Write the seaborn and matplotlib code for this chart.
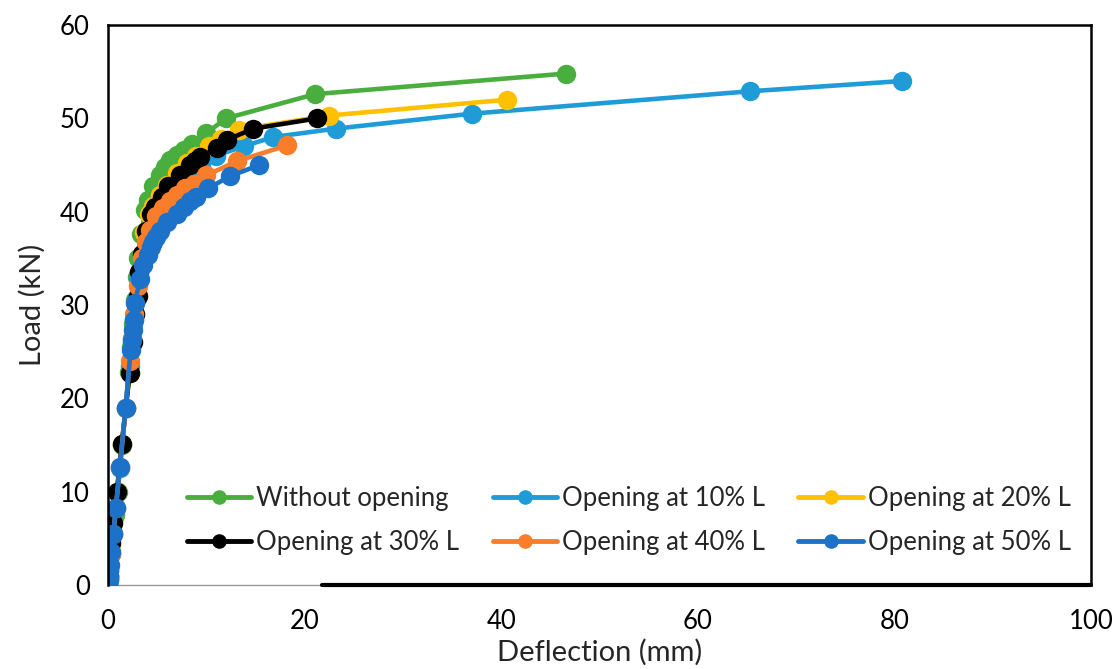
import numpy as np
import pandas as pd
import matplotlib
matplotlib.use("Agg")
import matplotlib.pyplot as plt
import seaborn as sns

# Load-deflection readings for each beam (deflection in mm, load in kN)
series_names = [
    "Without opening",
    "Opening at 10% L",
    "Opening at 20% L",
    "Opening at 30% L",
    "Opening at 40% L",
    "Opening at 50% L",
]

defl_without = [0, 0.05, 0.15, 0.3, 0.5, 0.7, 1.0, 1.4, 1.8, 2.1, 2.3, 2.5, 2.7, 2.9, 3.1,
                3.4, 3.8, 4.1, 4.6, 5.3, 5.8, 6.3, 7.0, 7.7, 8.5, 10.0, 12.0, 21.1, 46.6]
load_without = [0, 0.8, 1.8, 3.5, 5.5, 7.5, 10.0, 15.0, 19.0, 22.8, 25.5, 28.0, 30.5, 33.0, 35.0,
                37.6, 40.2, 41.2, 42.7, 43.9, 44.8, 45.5, 46.1, 46.6, 47.3, 48.4, 50.0, 52.6, 54.8]

defl_10 = [0, 0.05, 0.15, 0.3, 0.55, 0.8, 1.2, 1.8, 2.2, 2.4, 2.6, 2.8, 3.1, 3.5, 4.0, 4.5,
           5.2, 6.0, 7.0, 8.0, 9.5, 11.0, 13.8, 16.8, 23.2, 37.0, 65.3, 80.8]
load_10 = [0, 0.6, 1.6, 3.3, 5.6, 8.2, 12.5, 19.0, 23.5, 26.0, 28.5, 30.5, 33.0, 35.0, 37.5, 39.0,
           40.5, 41.8, 43.0, 44.0, 45.0, 46.0, 47.0, 48.0, 48.9, 50.5, 52.9, 54.0]

defl_20 = [0, 0.05, 0.15, 0.3, 0.55, 0.9, 1.4, 2.2, 2.5, 2.7, 3.0, 3.2, 3.5, 3.7, 4.2, 4.6,
           5.3, 6.0, 7.0, 8.0, 9.0, 10.3, 11.5, 13.3, 22.5, 40.6]
load_20 = [0, 0.9, 2.0, 4.4, 6.6, 10.0, 15.1, 22.7, 26.0, 29.0, 31.0, 33.5, 35.5, 37.8, 39.8, 40.6,
           41.8, 42.9, 44.1, 45.2, 46.0, 47.0, 47.8, 48.8, 50.3, 52.0]

defl_30 = [0, 0.05, 0.15, 0.3, 0.55, 0.9, 1.4, 2.2, 2.5, 2.7, 3.0, 3.2, 3.5, 3.9, 4.4, 4.8,
           5.5, 6.1, 7.3, 8.3, 8.9, 9.4, 11.1, 12.1, 14.8, 21.3]
load_30 = [0, 1.0, 2.2, 4.5, 6.6, 10.0, 15.1, 22.7, 26.0, 29.0, 31.0, 33.5, 35.5, 37.9, 39.8, 40.5,
           41.6, 42.7, 43.9, 45.0, 45.4, 45.9, 46.8, 47.7, 48.9, 50.0]

defl_40 = [0, 0.05, 0.15, 0.3, 0.55, 0.8, 1.2, 1.8, 2.2, 2.4, 2.6, 3.0, 3.5, 3.9, 4.3, 4.9,
           5.6, 6.3, 7.0, 7.8, 8.7, 10.0, 13.1, 18.2]
load_40 = [0, 0.6, 1.6, 3.3, 5.5, 8.3, 12.6, 19.0, 24.0, 26.5, 29.0, 32.0, 35.0, 36.8, 38.0, 39.5,
           40.4, 41.1, 41.8, 42.5, 43.0, 43.9, 45.4, 47.1]

defl_50 = [0, 0.05, 0.1, 0.15, 0.2, 0.3, 0.55, 0.8, 1.2, 1.8, 2.3, 2.4, 2.5, 2.6, 2.7, 3.3,
           3.6, 4.1, 4.4, 4.6, 4.9, 5.3, 6.0, 7.0, 7.7, 8.3, 9.0, 10.2, 12.4, 15.4]
load_50 = [0, 0.5, 1.0, 1.5, 2.1, 3.5, 5.5, 8.3, 12.6, 19.0, 25.2, 26.3, 27.3, 28.4, 30.2, 32.8,
           34.3, 35.4, 36.2, 36.8, 37.3, 37.9, 38.9, 39.8, 40.5, 41.1, 41.6, 42.5, 43.8, 45.0]

deflections = [defl_without, defl_10, defl_20, defl_30, defl_40, defl_50]
loads = [load_without, load_10, load_20, load_30, load_40, load_50]

colors = ["#4AAE3F", "#1F9CD8", "#FFC000", "#000000", "#FB7D2A", "#1C72C8"]

x_ticks = [0, 20, 40, 60, 80, 100]
y_ticks = [0, 10, 20, 30, 40, 50, 60]

frames = []
for name, xs, ys in zip(series_names, deflections, loads):
    frames.append(pd.DataFrame({"Deflection": xs, "Load": ys, "Beam": name}))
df = pd.concat(frames, ignore_index=True)

sns.set_theme(style="white")
plt.rcParams["font.family"] = ["Lato", "DejaVu Sans"]

fig = plt.figure(figsize=(11.17, 6.69), dpi=100)
ax = fig.add_axes([0.0967, 0.1256, 0.88, 0.837])

sns.lineplot(data=df, x="Deflection", y="Load", hue="Beam", hue_order=series_names,
             palette=colors, estimator=None, sort=False,
             marker="o", markersize=14, markeredgewidth=0, linewidth=3.3, ax=ax,
             legend=True)

ax.set_xlim(0, 100)
ax.set_ylim(0, 60)
ax.set_xticks(x_ticks)
ax.set_yticks(y_ticks)
ax.tick_params(axis="both", labelsize=18.5, colors="black")
ax.tick_params(axis="y", direction="out", length=5, width=1, color="#999999", pad=8)
ax.tick_params(axis="x", direction="out", length=7, width=1.5, color="black", pad=10)
ax.set_xlabel("Deflection (mm)", fontsize=21, labelpad=4)
ax.set_ylabel("Load (kN)", fontsize=21, labelpad=10)

for side in ["left", "top", "right"]:
    ax.spines[side].set_visible(True)
    ax.spines[side].set_color("black")
    ax.spines[side].set_linewidth(1.8)
ax.spines["bottom"].set_visible(False)
# bottom edge: thin grey axis line near the origin, heavy black frame beyond it
ax.axhline(0, xmin=0, xmax=0.218, color="#999999", linewidth=1.0, zorder=1, clip_on=False)
ax.axhline(0, xmin=0.218, xmax=1.0, color="black", linewidth=3.0, zorder=1, clip_on=False)

handles, labels = ax.get_legend_handles_labels()
for h in handles:
    h.set_markersize(10.5)
    h.set_linewidth(3.5)
# fill the three-column legend row by row
order = [0, 3, 1, 4, 2, 5]
ax.legend([handles[i] for i in order], [labels[i] for i in order], ncol=3,
          loc="lower right", bbox_to_anchor=(0.99, 0.035),
          frameon=False, fontsize=18.5, handlelength=2.5, handletextpad=0.2,
          columnspacing=1.3, labelspacing=0.75, borderaxespad=0)

fig.savefig("out.png", dpi=100)
